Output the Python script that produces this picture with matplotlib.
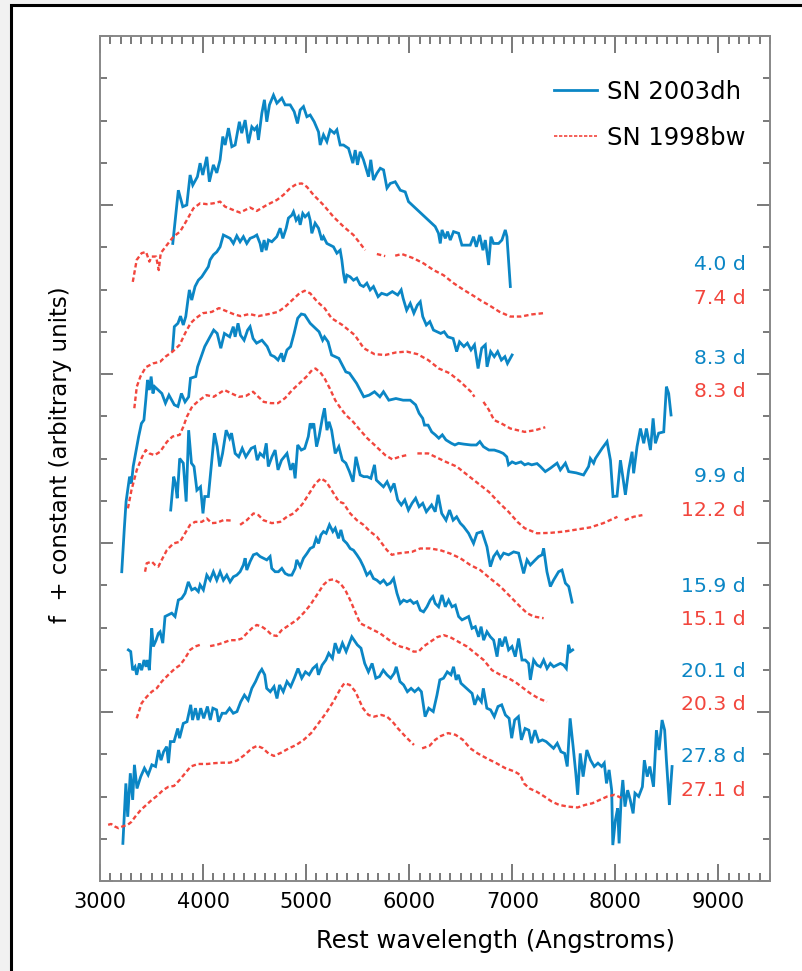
import numpy as np
import matplotlib
matplotlib.use("Agg")
import matplotlib.pyplot as plt
from matplotlib.ticker import MultipleLocator
from matplotlib.lines import Line2D
from matplotlib.patches import Rectangle

nan = float("nan")

# ---- data: (rest wavelength [A], f + constant) ----
dh_4_0 = [(3706,15.09),(3760,16.35),(3803,15.96),(3842,16.00),(3874,16.71),(3900,16.47),(3945,16.67),(3971,16.99),(3997,16.71),(4036,17.14),(4061,16.55),(4100,16.95),(4133,16.76),(4165,17.07),(4191,17.62),(4214,17.42),(4246,17.82),(4279,17.38),(4311,17.42),(4352,17.97),(4375,17.70),(4408,18.01),(4440,17.46),(4473,17.85),(4498,17.78),(4521,17.85),(4537,17.54),(4570,18.17),(4595,18.49),(4618,17.97),(4644,18.37),(4683,18.60),(4716,18.41),(4764,18.53),(4796,18.37),(4845,18.37),(4884,18.21),(4916,17.93),(4942,18.25),(4974,18.33),(5007,18.09),(5039,18.13),(5078,17.97),(5120,17.73),(5136,17.42),(5168,17.66),(5201,17.50),(5233,17.78),(5272,17.70),(5298,17.78),(5330,17.42),(5362,17.42),(5411,17.34),(5453,16.99),(5476,17.30),(5498,16.95),(5524,17.26),(5556,17.07),(5605,16.67),(5627,17.07),(5653,16.59),(5686,16.75),(5719,16.87),(5751,16.83),(5784,16.40),(5816,16.51),(5864,16.55),(5913,16.35),(5961,16.31),(5993,16.08),(6252,15.49),(6284,15.33),(6301,15.09),(6318,15.41),(6350,15.21),(6372,15.37),(6398,15.17),(6430,15.37),(6479,15.33),(6511,15.05),(6592,15.05),(6624,15.25),(6651,15.01),(6683,15.29),(6715,14.93),(6738,15.17),(6770,14.58),(6793,15.25),(6818,15.09),(6867,15.09),(6899,15.17),(6932,15.41),(6948,15.25),(6981,14.07)]

bw_7_4 = [(3318,14.18),(3356,14.70),(3404,14.86),(3447,14.89),(3479,14.66),(3502,14.78),(3544,14.78),(3570,14.46),(3589,14.86),(3648,15.05),(3712,15.25),(3777,15.37),(3842,15.64),(3906,15.92),(3971,16.04),(4036,16.02),(4100,16.04),(4165,16.08),(4214,15.96),(4294,15.88),(4359,15.82),(4456,15.94),(4521,15.86),(4618,16.00),(4716,16.12),(4780,16.24),(4845,16.40),(4910,16.50),(4958,16.51),(5007,16.43),(5071,16.24),(5168,16.00),(5265,15.72),(5362,15.49),(5459,15.29),(5524,15.09),(5573,14.93),(5630,nan),(5686,14.84),(5767,14.79),(5815,nan),(5864,14.80),(5928,14.84),(6041,14.74),(6138,14.62),(6236,14.46),(6332,14.34),(6430,14.15),(6529,13.99),(6624,13.85),(6700,13.73),(6773,13.63),(6877,13.47),(6981,13.36),(7085,13.36),(7188,13.41),(7303,13.44)]

dh_8_3 = [(3704,12.57),(3721,13.12),(3756,13.20),(3781,13.37),(3808,13.16),(3832,13.36),(3853,13.75),(3867,13.99),(3890,13.75),(3922,14.07),(3954,14.22),(3987,14.30),(4019,14.42),(4051,14.54),(4068,14.70),(4100,14.82),(4133,14.89),(4165,15.01),(4197,15.29),(4230,15.25),(4262,15.21),(4294,15.09),(4327,15.27),(4359,15.13),(4391,15.25),(4424,15.09),(4456,15.21),(4495,15.25),(4521,15.29),(4553,15.09),(4570,14.89),(4592,15.17),(4612,14.93),(4634,15.17),(4667,15.13),(4715,15.25),(4748,15.45),(4774,15.21),(4806,15.45),(4828,15.69),(4861,15.76),(4877,15.84),(4903,15.64),(4925,15.72),(4942,15.53),(4967,15.80),(4990,15.72),(5022,15.80),(5039,15.64),(5055,15.33),(5087,15.57),(5120,15.45),(5152,15.17),(5168,15.25),(5201,15.09),(5233,15.05),(5265,15.01),(5298,14.86),(5330,14.93),(5346,14.70),(5362,14.38),(5379,14.15),(5395,14.34),(5427,14.30),(5459,14.22),(5491,14.27),(5524,14.11),(5556,14.07),(5589,14.15),(5621,13.99),(5653,14.07),(5698,13.83),(5732,13.91),(5784,13.87),(5836,13.95),(5888,13.87),(5922,13.99),(5941,13.79),(5975,13.51),(6010,13.67),(6045,13.44),(6079,13.63),(6107,13.71),(6131,13.36),(6166,13.16),(6200,13.24),(6235,13.04),(6270,13.00),(6305,12.96),(6339,13.00),(6374,12.88),(6426,12.84),(6460,12.53),(6488,12.76),(6530,12.65),(6564,12.73),(6599,12.57),(6633,12.69),(6668,12.13),(6703,12.61),(6738,12.69),(6755,12.17),(6790,12.53),(6825,12.41),(6858,12.53),(6894,12.33),(6928,12.41),(6953,12.25),(6998,12.45)]

bw_8_3 = [(3333,11.19),(3357,11.70),(3392,11.94),(3444,12.16),(3514,12.25),(3583,12.29),(3635,12.41),(3704,12.53),(3773,12.69),(3825,12.96),(3878,13.20),(3929,13.32),(3999,13.44),(4085,13.47),(4154,13.56),(4224,13.49),(4293,13.42),(4363,13.37),(4450,13.42),(4536,13.37),(4640,13.42),(4727,13.47),(4796,13.59),(4865,13.75),(4935,13.91),(4986,13.97),(5039,13.91),(5108,13.71),(5178,13.56),(5247,13.32),(5351,13.16),(5472,12.92),(5559,12.61),(5663,12.47),(5767,12.45),(5871,12.51),(5975,12.53),(6079,12.47),(6184,12.33),(6287,12.13),(6391,12.02),(6495,11.82),(6599,11.58),(6633,11.46),(6680,nan),(6720,11.34),(6773,11.15),(6823,10.91),(6894,10.83),(6981,10.71),(7120,10.63),(7223,10.67),(7320,10.74)]

dh_9_9 = [(3211,7.32),(3236,8.35),(3253,8.98),(3287,9.57),(3305,9.41),(3322,9.81),(3357,10.28),(3375,10.52),(3402,10.83),(3426,10.91),(3444,11.38),(3461,11.86),(3479,11.62),(3496,11.94),(3514,11.54),(3530,11.70),(3565,11.62),(3600,11.54),(3635,11.31),(3669,11.50),(3721,11.27),(3756,11.23),(3790,11.54),(3825,11.34),(3860,11.46),(3878,11.90),(3929,11.94),(3947,12.17),(3981,12.41),(4016,12.65),(4068,12.88),(4103,13.04),(4137,12.96),(4172,12.61),(4207,12.96),(4258,12.88),(4293,13.12),(4311,12.88),(4339,13.20),(4363,12.92),(4398,12.80),(4432,13.04),(4456,13.12),(4485,12.84),(4519,12.73),(4571,12.80),(4622,12.65),(4657,12.45),(4692,12.41),(4727,12.33),(4761,12.49),(4779,12.29),(4814,12.57),(4849,12.65),(4883,12.96),(4918,13.32),(4953,13.42),(4986,13.40),(5039,13.20),(5091,13.08),(5125,13.00),(5160,12.80),(5178,12.88),(5213,12.76),(5247,12.45),(5282,12.41),(5317,12.37),(5351,12.21),(5385,12.05),(5420,12.02),(5455,11.90),(5489,11.78),(5524,11.62),(5559,11.46),(5611,11.50),(5663,11.58),(5715,11.46),(5750,11.58),(5802,11.38),(5871,11.42),(5941,11.38),(6010,11.38),(6062,11.27),(6096,11.07),(6131,10.95),(6148,10.79),(6183,10.79),(6218,10.63),(6253,10.56),(6287,10.48),(6321,10.56),(6356,10.44),(6409,10.36),(6443,10.32),(6478,10.36),(6530,10.34),(6599,10.32),(6652,10.32),(6685,10.40),(6720,10.28),(6773,10.20),(6825,10.20),(6876,10.16),(6912,10.12),(6946,10.04),(6963,9.85),(6998,9.92),(7033,9.88),(7084,9.92),(7120,9.85),(7154,9.88),(7188,9.85),(7240,9.88),(7272,9.81),(7320,9.69),(7369,9.77),(7434,9.89),(7466,9.73),(7515,9.89),(7547,9.69),(7620,9.66),(7691,9.61),(7740,9.81),(7757,10.00),(7789,9.89),(7806,10.00),(7871,10.24),(7919,10.40),(7952,9.96),(7977,9.10),(8016,9.11),(8049,9.96),(8097,9.14),(8129,9.73),(8162,10.16),(8177,9.65),(8210,10.28),(8243,10.71),(8275,10.36),(8301,10.71),(8340,10.20),(8366,10.95),(8388,10.36),(8420,10.60),(8469,10.63),(8495,11.70),(8517,11.54),(8540,11.03)]

bw_12_2 = [(3271,8.82),(3305,9.25),(3357,9.73),(3409,10.04),(3444,10.20),(3479,10.12),(3530,10.08),(3583,10.16),(3617,10.28),(3651,10.40),(3704,10.52),(3773,10.56),(3808,10.75),(3843,10.99),(3894,11.23),(3964,11.38),(4033,11.50),(4103,11.46),(4154,11.54),(4207,11.62),(4276,11.54),(4346,11.46),(4415,11.48),(4485,11.58),(4536,11.46),(4588,11.34),(4657,11.31),(4727,11.31),(4796,11.43),(4865,11.62),(4935,11.78),(5004,11.94),(5056,12.09),(5091,12.13),(5143,12.02),(5178,11.90),(5229,11.66),(5282,11.38),(5334,11.19),(5385,11.03),(5455,10.87),(5524,10.67),(5593,10.48),(5681,10.28),(5767,10.08),(5836,9.98),(5905,10.04),(5975,10.08),(6025,nan),(6079,10.12),(6184,10.12),(6253,10.04),(6356,9.92),(6460,9.81),(6564,9.61),(6668,9.41),(6773,9.21),(6877,8.94),(6963,8.74),(7050,8.50),(7120,8.35),(7239,8.23),(7369,8.24),(7498,8.27),(7628,8.32),(7757,8.37),(7883,8.47),(8020,8.62),(8055,nan),(8090,8.54),(8176,8.62),(8262,8.66)]

dh_15_9 = [(3686,8.78),(3715,9.57),(3732,9.41),(3749,9.06),(3773,10.00),(3808,9.89),(3836,8.98),(3860,10.67),(3887,9.89),(3912,9.81),(3940,9.25),(3975,9.33),(3999,8.70),(4016,9.10),(4051,9.10),(4079,9.81),(4110,10.60),(4137,10.28),(4161,9.81),(4189,10.12),(4224,10.67),(4258,10.48),(4276,10.60),(4311,10.12),(4346,10.04),(4380,10.24),(4415,10.04),(4467,10.24),(4501,10.28),(4525,9.96),(4553,10.12),(4588,10.04),(4613,10.36),(4633,9.81),(4668,10.04),(4699,10.20),(4727,9.73),(4761,9.96),(4814,10.12),(4849,9.73),(4873,9.89),(4893,9.53),(4918,10.32),(4953,10.20),(4986,10.24),(5021,10.52),(5039,10.83),(5056,10.75),(5074,10.83),(5101,10.28),(5125,10.52),(5160,10.99),(5178,11.19),(5202,10.67),(5222,10.87),(5247,10.67),(5282,10.12),(5317,10.28),(5351,9.96),(5385,9.89),(5420,9.69),(5455,9.45),(5483,10.04),(5524,9.61),(5559,9.57),(5593,9.57),(5628,9.53),(5663,9.85),(5681,9.49),(5715,9.41),(5750,9.33),(5785,9.45),(5820,9.25),(5853,9.41),(5888,9.02),(5923,8.90),(5957,9.02),(5992,8.78),(6027,8.94),(6062,9.06),(6096,8.86),(6131,8.94),(6166,8.74),(6217,8.90),(6252,8.74),(6280,9.14),(6315,8.70),(6357,8.54),(6391,8.78),(6426,8.54),(6460,8.62),(6495,8.47),(6527,8.39),(6576,8.23),(6624,7.99),(6657,8.23),(6706,8.27),(6754,7.91),(6787,7.44),(6819,7.68),(6852,7.79),(6884,7.64),(6916,7.76),(6964,7.72),(7013,7.79),(7061,7.76),(7094,7.44),(7110,7.28),(7143,7.60),(7175,7.48),(7223,7.60),(7256,7.68),(7289,7.72),(7304,7.87),(7336,7.32),(7369,6.97),(7400,7.12),(7449,7.32),(7482,7.36),(7515,7.05),(7547,6.97),(7580,6.60)]

bw_15_1 = [(3437,7.32),(3453,7.52),(3502,7.56),(3534,7.48),(3566,7.44),(3599,7.60),(3648,7.83),(3712,7.99),(3777,8.03),(3825,8.23),(3874,8.43),(3922,8.50),(3987,8.50),(4036,8.58),(4084,8.47),(4133,8.48),(4197,8.54),(4294,8.53),(4330,nan),(4359,8.43),(4424,8.54),(4489,8.70),(4537,8.66),(4586,8.54),(4667,8.47),(4748,8.50),(4813,8.62),(4877,8.70),(4942,8.86),(4969,8.94),(5039,9.21),(5091,9.41),(5143,9.53),(5195,9.45),(5247,9.25),(5317,8.98),(5362,8.94),(5427,8.70),(5492,8.54),(5556,8.43),(5621,8.27),(5686,8.15),(5735,7.99),(5784,7.83),(5832,7.72),(5881,7.75),(5944,7.77),(6026,7.79),(6107,7.87),(6204,7.87),(6301,7.83),(6398,7.75),(6495,7.64),(6592,7.48),(6689,7.36),(6786,7.16),(6884,6.97),(6981,6.73),(7078,6.49),(7143,6.34),(7207,6.26),(7304,6.22),(7370,nan),(7434,6.19)]

dh_20_1 = [(3275,5.47),(3298,5.43),(3317,4.99),(3340,5.07),(3356,4.88),(3382,5.15),(3404,4.99),(3427,5.23),(3447,5.07),(3459,5.23),(3479,4.99),(3502,5.98),(3517,5.55),(3544,5.70),(3566,5.86),(3583,5.90),(3609,5.63),(3631,6.26),(3663,6.30),(3696,6.34),(3728,6.26),(3760,6.65),(3793,6.69),(3825,6.81),(3857,7.08),(3890,6.89),(3922,6.93),(3954,6.85),(3971,7.01),(4003,6.89),(4036,7.24),(4068,7.12),(4100,7.32),(4133,7.12),(4165,7.32),(4197,7.12),(4230,7.24),(4262,7.08),(4294,7.20),(4327,7.24),(4359,7.32),(4391,7.48),(4408,7.64),(4424,7.36),(4456,7.56),(4488,7.72),(4521,7.75),(4553,7.68),(4586,7.64),(4618,7.60),(4650,7.68),(4666,7.40),(4699,7.32),(4731,7.32),(4764,7.40),(4796,7.28),(4828,7.24),(4861,7.24),(4893,7.40),(4909,7.60),(4942,7.44),(4974,7.64),(5007,7.75),(5039,7.87),(5071,7.91),(5097,8.11),(5120,7.99),(5143,8.19),(5168,8.27),(5194,8.23),(5226,8.43),(5259,8.27),(5282,8.35),(5314,8.11),(5337,8.31),(5362,8.07),(5395,7.99),(5427,7.87),(5459,7.83),(5492,7.72),(5524,7.60),(5556,7.44),(5589,7.24),(5621,7.32),(5653,7.16),(5686,7.12),(5718,7.05),(5751,7.12),(5784,7.01),(5816,7.05),(5848,7.16),(5881,6.81),(5913,6.57),(5945,6.65),(5978,6.61),(6010,6.65),(6042,6.57),(6075,6.61),(6107,6.41),(6139,6.37),(6172,6.49),(6204,6.65),(6230,6.73),(6252,6.57),(6285,6.49),(6318,6.77),(6350,6.49),(6382,6.65),(6415,6.49),(6447,6.53),(6479,6.26),(6512,6.18),(6544,6.22),(6576,6.26),(6609,5.98),(6641,6.02),(6673,5.78),(6697,6.02),(6722,5.70),(6754,5.90),(6787,5.78),(6819,5.70),(6852,5.31),(6876,5.74),(6900,5.55),(6932,5.78),(6964,5.47),(6997,5.55),(7029,5.31),(7061,5.74),(7094,5.23),(7126,5.23),(7158,5.15),(7175,4.76),(7207,5.23),(7240,5.11),(7272,5.07),(7304,5.23),(7337,5.03),(7369,5.15),(7401,5.07),(7434,5.11),(7466,5.15),(7498,5.11),(7524,5.03),(7546,5.59),(7563,5.43),(7586,5.47)]

bw_20_3 = [(3356,3.85),(3404,4.21),(3453,4.36),(3502,4.48),(3550,4.56),(3599,4.72),(3663,4.88),(3728,5.03),(3777,5.11),(3825,5.27),(3874,5.47),(3922,5.55),(3971,5.59),(4020,nan),(4068,5.56),(4133,5.59),(4197,5.64),(4262,5.70),(4327,5.70),(4376,5.74),(4424,5.86),(4473,5.98),(4521,6.06),(4570,6.02),(4618,5.94),(4667,5.82),(4715,5.80),(4764,5.94),(4813,6.02),(4861,6.10),(4910,6.18),(4974,6.34),(5039,6.53),(5104,6.77),(5168,7.01),(5217,7.12),(5265,7.14),(5330,7.05),(5379,6.89),(5427,6.65),(5476,6.37),(5524,6.10),(5589,6.02),(5653,5.94),(5718,5.86),(5784,5.74),(5848,5.63),(5913,5.55),(5978,5.51),(6042,5.43),(6091,5.43),(6138,5.55),(6204,5.66),(6269,5.77),(6333,5.82),(6398,5.77),(6479,5.66),(6560,5.55),(6641,5.39),(6722,5.23),(6803,4.99),(6884,4.88),(6964,4.80),(7045,4.68),(7109,4.56),(7175,4.44),(7256,4.32),(7336,4.24)]

dh_27_8 = [(3222,0.89),(3251,2.31),(3269,1.52),(3294,2.55),(3317,1.92),(3334,2.75),(3359,2.19),(3395,2.47),(3431,2.67),(3467,2.51),(3503,2.75),(3539,2.71),(3568,3.10),(3592,2.86),(3617,3.06),(3647,3.18),(3664,2.79),(3683,3.30),(3718,3.30),(3754,3.61),(3772,3.38),(3808,3.73),(3844,3.77),(3880,4.17),(3898,3.81),(3926,4.09),(3951,3.81),(3977,4.09),(4006,3.85),(4042,4.13),(4070,3.81),(4095,4.09),(4131,4.05),(4150,3.77),(4185,3.97),(4221,3.97),(4257,4.09),(4293,3.97),(4329,4.01),(4365,4.24),(4401,4.40),(4437,4.28),(4473,4.56),(4509,4.72),(4545,4.92),(4570,5.01),(4598,4.88),(4617,4.56),(4652,4.48),(4688,4.60),(4717,4.32),(4742,4.64),(4778,4.48),(4814,4.72),(4850,4.60),(4885,4.80),(4921,5.03),(4957,4.80),(4993,4.95),(5029,4.88),(5065,5.03),(5101,5.11),(5119,4.88),(5155,5.11),(5191,5.23),(5219,5.39),(5255,5.27),(5281,5.63),(5317,5.39),(5352,5.63),(5388,5.43),(5443,5.78),(5496,5.59),(5532,5.51),(5568,5.15),(5604,4.95),(5640,5.15),(5676,4.80),(5712,4.84),(5748,4.99),(5784,4.88),(5820,4.80),(5855,4.92),(5874,5.07),(5910,4.72),(5946,4.64),(5982,4.48),(6018,4.56),(6053,4.48),(6089,4.56),(6118,4.48),(6154,3.89),(6189,4.09),(6233,4.01),(6269,4.40),(6297,4.76),(6333,4.80),(6369,4.95),(6405,4.88),(6430,5.07),(6455,4.76),(6477,4.88),(6502,4.68),(6556,4.56),(6610,4.44),(6635,4.17),(6664,4.36),(6700,4.24),(6719,4.56),(6753,4.09),(6789,4.05),(6825,3.89),(6861,4.13),(6897,4.17),(6933,3.93),(6969,3.85),(6994,3.38),(7023,3.81),(7059,3.89),(7088,3.34),(7124,3.61),(7160,3.57),(7185,3.26),(7220,3.57),(7256,3.30),(7292,3.34),(7328,3.30),(7364,3.22),(7400,3.14),(7436,3.26),(7472,3.06),(7508,3.02),(7533,2.71),(7561,3.85),(7590,3.18),(7616,2.55),(7634,2.04),(7659,3.02),(7687,2.47),(7723,3.10),(7759,2.86),(7795,2.71),(7831,2.79),(7867,2.71),(7892,2.79),(7914,2.31),(7939,2.63),(7964,2.15),(7975,0.85),(8000,1.44),(8022,1.72),(8036,0.89),(8057,2.00),(8072,2.39),(8093,1.76),(8119,2.15),(8144,1.92),(8172,1.60),(8190,2.08),(8226,2.00),(8262,2.23),(8281,2.86),(8309,2.47),(8334,2.71),(8370,2.23),(8398,3.57),(8424,3.10),(8453,3.81),(8478,3.57),(8495,2.86),(8524,1.80),(8550,2.71)]

bw_27_1 = [(3079,1.33),(3108,1.35),(3144,1.29),(3180,1.25),(3216,1.29),(3269,1.33),(3305,1.40),(3341,1.52),(3395,1.68),(3449,1.80),(3503,1.92),(3556,2.02),(3611,2.15),(3664,2.23),(3718,2.25),(3772,2.39),(3826,2.55),(3880,2.71),(3951,2.77),(4042,2.77),(4114,2.79),(4185,2.80),(4257,2.80),(4329,2.85),(4401,2.98),(4473,3.14),(4526,3.20),(4581,3.14),(4634,3.02),(4688,2.96),(4760,3.04),(4832,3.14),(4904,3.22),(4976,3.34),(5048,3.50),(5119,3.73),(5191,3.97),(5263,4.24),(5335,4.56),(5371,4.68),(5424,4.64),(5479,4.48),(5515,4.28),(5551,4.09),(5604,3.93),(5658,3.89),(5730,3.93),(5784,3.89),(5838,3.77),(5891,3.61),(5963,3.42),(6046,3.22),(6085,nan),(6125,3.14),(6197,3.20),(6251,3.34),(6305,3.43),(6377,3.50),(6449,3.46),(6521,3.34),(6592,3.14),(6664,3.02),(6754,2.90),(6844,2.79),(6933,2.67),(7023,2.59),(7078,2.51),(7113,2.31),(7167,2.19),(7239,2.11),(7311,2.00),(7383,1.88),(7455,1.80),(7544,1.76),(7633,1.74),(7705,1.80),(7777,1.84),(7849,1.92),(7921,2.00),(7993,2.04),(8064,1.96)]

sn2003dh_spectra = [dh_4_0, dh_8_3, dh_9_9, dh_15_9, dh_20_1, dh_27_8]
sn1998bw_spectra = [bw_7_4, bw_8_3, bw_12_2, bw_15_1, bw_20_3, bw_27_1]

epoch_labels = ["4.0 d", "7.4 d", "8.3 d", "8.3 d", "9.9 d", "12.2 d",
                "15.9 d", "15.1 d", "20.1 d", "20.3 d", "27.8 d", "27.1 d"]
epoch_label_y = [14.58, 13.79, 12.37, 11.58, 9.57, 8.78,
                 6.97, 6.18, 4.95, 4.17, 2.94, 2.15]
epoch_label_is_dh = [True, False] * 6

legend_labels = ["SN 2003dh", "SN 1998bw"]
x_label = "Rest wavelength (Angstroms)"
y_label = "f  + constant (arbitrary units)"

BLUE = "#0b86c5"
RED = "#f2463d"

# ---- figure ----
plt.rcParams['font.family'] = ['DejaVu Sans']
fig = plt.figure(figsize=(8.03, 9.71), dpi=100, facecolor="#f1f1f1")
frame = Rectangle((11 / 803, -0.1), 1.2, (971 - 5.5) / 971 + 0.1,
                  transform=fig.transFigure, facecolor="white",
                  edgecolor="black", linewidth=2.2, zorder=-5)
fig.add_artist(frame)

ax = fig.add_axes([100 / 803, 1 - 881 / 971, 670 / 803, 845 / 971])
ax.set_facecolor("white")

for spec in sn2003dh_spectra:
    w, f = zip(*spec)
    ax.plot(w, f, color=BLUE, lw=2.0, solid_joinstyle="miter")
for spec in sn1998bw_spectra:
    w, f = zip(*spec)
    ax.plot(w, f, color=RED, lw=1.7, dashes=(1.9, 1.2))

for lab, yy, isdh in zip(epoch_labels, epoch_label_y, epoch_label_is_dh):
    ax.text(9262, yy, lab, color=BLUE if isdh else RED, fontsize=14.7,
            ha="right", va="center")

ax.set_xlim(3000, 9500)
ax.set_ylim(0, 20)
ax.xaxis.set_major_locator(MultipleLocator(1000))
ax.xaxis.set_minor_locator(MultipleLocator(100))
ax.yaxis.set_major_locator(MultipleLocator(4))
ax.yaxis.set_minor_locator(MultipleLocator(1))
ax.tick_params(axis="x", which="both", direction="in", top=True, bottom=True,
               color="#555555", width=1.1, labelsize=15, pad=8)
ax.tick_params(axis="x", which="major", length=12)
ax.tick_params(axis="x", which="minor", length=6)
ax.tick_params(axis="y", which="both", direction="in", left=True, right=True,
               color="#555555", width=1.1, labelleft=False)
ax.tick_params(axis="y", which="major", length=9.5)
ax.tick_params(axis="y", which="minor", length=5)
for sp in ax.spines.values():
    sp.set_color("#888888")
    sp.set_linewidth(1.4)

ax.set_xlabel(x_label, fontsize=17.5)
ax.xaxis.label.set_verticalalignment("center")
ax.xaxis.set_label_coords((496 - 100) / 670, (881 - 941) / 845)
ax.set_ylabel(y_label, fontsize=16.5)
ax.yaxis.label.set_verticalalignment("center")
ax.yaxis.set_label_coords((61 - 100) / 670, (881 - 455) / 845)

handles = [Line2D([], [], color=BLUE, lw=2.0),
           Line2D([], [], color=RED, lw=1.2, dashes=(2.0, 1.0))]
ax.legend(handles, legend_labels, loc="upper left",
          bbox_to_anchor=((554 - 100) / 670, (881 - 80) / 845),
          frameon=False, fontsize=17.5, handlelength=1.77,
          handletextpad=0.42, labelspacing=0.9, borderpad=0,
          borderaxespad=0)

fig.savefig("out.png", dpi=100, facecolor=fig.get_facecolor())
